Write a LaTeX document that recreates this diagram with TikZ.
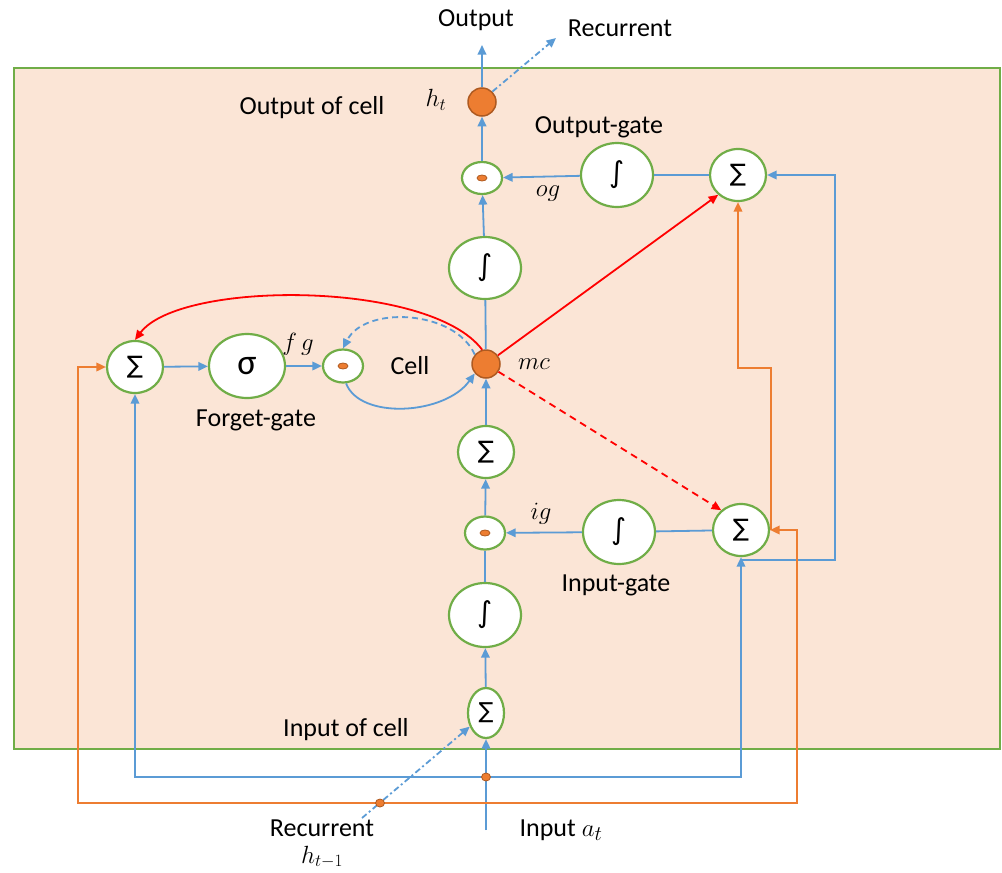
\documentclass[tikz,border=0pt]{standalone}
\usepackage{fontspec}
\setmainfont{Carlito}
\newfontfamily\symfont{DejaVu Sans}
\usetikzlibrary{shapes.geometric,arrows.meta}

\definecolor{boxgreen}{HTML}{70AD47}
\definecolor{boxfill}{HTML}{FBE5D6}
\definecolor{flowblue}{HTML}{5B9BD5}
\definecolor{flowor}{HTML}{ED7D31}
\definecolor{darkor}{HTML}{AE5A21}
\definecolor{flowred}{HTML}{FF0000}

\tikzset{
  unit/.style={ellipse, draw=boxgreen, line width=2.2pt, fill=white, inner sep=0pt},
  sumnode/.style={unit, minimum width=56pt, minimum height=52pt, font=\symfont\fontsize{24}{24}\selectfont},
  intnode/.style={unit, minimum width=72pt, minimum height=64pt, font=\symfont\fontsize{29}{29}\selectfont},
  prodnode/.style={unit, minimum width=40pt, minimum height=33pt},
  statenode/.style={circle, fill=flowor, draw=darkor, line width=1.5pt, minimum size=28pt, inner sep=0pt},
  head/.tip={Triangle[length=9.5pt,width=8.5pt]},
  tip/.style={-head},
  bline/.style={draw=flowblue, line width=1.8pt},
  oline/.style={draw=flowor, line width=1.8pt},
  rline/.style={draw=flowred, line width=1.8pt},
  lbl/.style={font=\fontsize{26}{30}\selectfont, text=black},
  mlbl/.style={font=\fontsize{26}{29}\selectfont, text=black},
  dotor/.style={ellipse, fill=flowor, draw=darkor, line width=0.8pt, minimum width=9pt, minimum height=8pt, inner sep=0pt},
}

\newcommand{\prodmark}[1]{\node[ellipse, fill=flowor, draw=darkor, line width=0.8pt, minimum width=10pt, minimum height=6pt, inner sep=0pt] at (#1) {};}

\begin{document}
\begin{tikzpicture}[x=1pt,y=-1pt]
\useasboundingbox (0,0) rectangle (1002,873);

% cell frame
\draw[boxgreen, fill=boxfill, line width=2pt] (14,68) rectangle (1000,749);

% units
\node[sumnode] (sigL) at (135,367) {∑};
\node[unit, minimum width=76pt, minimum height=64pt, font=\fontsize{36}{36}\selectfont] (sigma) at (247,366) {σ};
\node[prodnode] (fprod) at (343,366) {};
\node[statenode] (mc) at (486,364) {};
\node[intnode, minimum height=62pt] (intM) at (485,268) {∫};
\node[prodnode, minimum height=32pt] (oprod) at (482,178) {};
\node[statenode] (ht) at (482,102) {};
\node[intnode] (intO) at (617,175) {∫};
\node[sumnode] (sigO) at (738,175) {∑};
\node[sumnode] (sigMid) at (486,452) {∑};
\node[prodnode] (iprod) at (485,533) {};
\node[intnode] (intI) at (619,532) {∫};
\node[sumnode] (sigI) at (741,530) {∑};
\node[intnode] (intL) at (485,615) {∫};
\node[unit, minimum width=36pt, minimum height=50pt, font=\symfont\fontsize{22}{22}\selectfont] (sigB) at (486,713) {∑};

\prodmark{fprod}
\prodmark{oprod}
\prodmark{iprod}

% free ends and junctions
\coordinate (outEnd) at (482,45);
\coordinate (recEnd) at (556,38);
\coordinate (inStart) at (486,830);
\coordinate (recStart) at (362,818);
\coordinate (blueJ) at (486,777);
\coordinate (orJ) at (380,803);
\coordinate (blueBr) at (741,560);
\coordinate (orBr) at (771,530);

% main blue flow
\draw[bline, tip] (sigL) -- (sigma);
\draw[bline, tip] (sigma) -- (fprod);
\draw[bline, tip] (fprod.-80) .. controls (360,420) and (445,415) .. (mc.-140);
\draw[bline, tip, dash pattern=on 6pt off 4pt] (mc.140) .. controls (455,310) and (365,305) .. (fprod.north);
\draw[bline, tip] (inStart) -- (sigB.south);
\draw[bline, tip] (sigB) -- (intL);
\draw[bline] (intL) -- (iprod);
\draw[bline, tip] (iprod) -- (sigMid);
\draw[bline, tip] (sigMid) -- (mc);
\draw[bline] (mc) -- (intM);
\draw[bline, tip] (intM) -- (oprod);
\draw[bline, tip] (oprod) -- (ht);
\draw[bline, tip] (ht) -- (outEnd);
\draw[bline, tip, dash pattern=on 6pt off 3pt on 2pt off 3pt] (ht.45) -- (recEnd);
\draw[bline, tip] (intO) -- (oprod);
\draw[bline] (sigO) -- (intO);
\draw[bline, tip] (intI) -- (iprod);
\draw[bline] (sigI) -- (intI);
\draw[bline, tip, dash pattern=on 6pt off 3pt on 2pt off 3pt] (recStart) -- (sigB.-140);

% input distribution loops
\draw[bline, head-head] (sigL.south) |- (blueJ) -| (sigI.south);
\draw[bline, tip] (blueBr) -- (835,560) |- (sigO.east);
\draw[oline, head-head] (sigL.west) -| (78,803) -- (797,803) |- (sigI.east);
\draw[oline, tip] (orBr) -- (771,368) -| (sigO.south);

% peephole connections
\draw[rline, tip] (mc.105) .. controls (430,280) and (180,280) .. (sigL.north);
\draw[rline, tip] (mc) -- (sigO.-135);
\draw[rline, tip, dash pattern=on 7pt off 5pt] (mc) -- (sigI.135);

% junction dots
\node[dotor] (dotB) at (blueJ) {};
\node[dotor] (dotO) at (orJ) {};

% labels
\node[lbl] (tOut) at (476,20) {Output};
\node[lbl] (tRec) at (620,28) {Recurrent};
\node[lbl] (tOoc) at (312,108) {Output of cell};
\node[mlbl] (tht) at (436,100) {$h_t$};
\node[lbl] (tOg) at (599,127) {Output-gate};
\node[mlbl] (tog) at (548,194) {$og$};
\node[mlbl] (tmc) at (534,364) {$mc$};
\node[lbl] (tCell) at (410,366) {Cell};
\node[mlbl] (tfg) at (298,344) {$f\,g$};
\node[lbl] (tFg) at (256,420) {Forget-gate};
\node[mlbl] (tig) at (541,514) {$ig$};
\node[lbl] (tIg) at (616,585) {Input-gate};
\node[lbl] (tIoc) at (346,730) {Input of cell};
\node[lbl] (tRec2) at (322,828) {Recurrent};
\node[mlbl] (tht1) at (322,857) {$h_{t-1}$};
\node[lbl] (tIn) at (561,830) {Input {\fontsize{28}{30}\selectfont$a_t$}};
\end{tikzpicture}
\end{document}
